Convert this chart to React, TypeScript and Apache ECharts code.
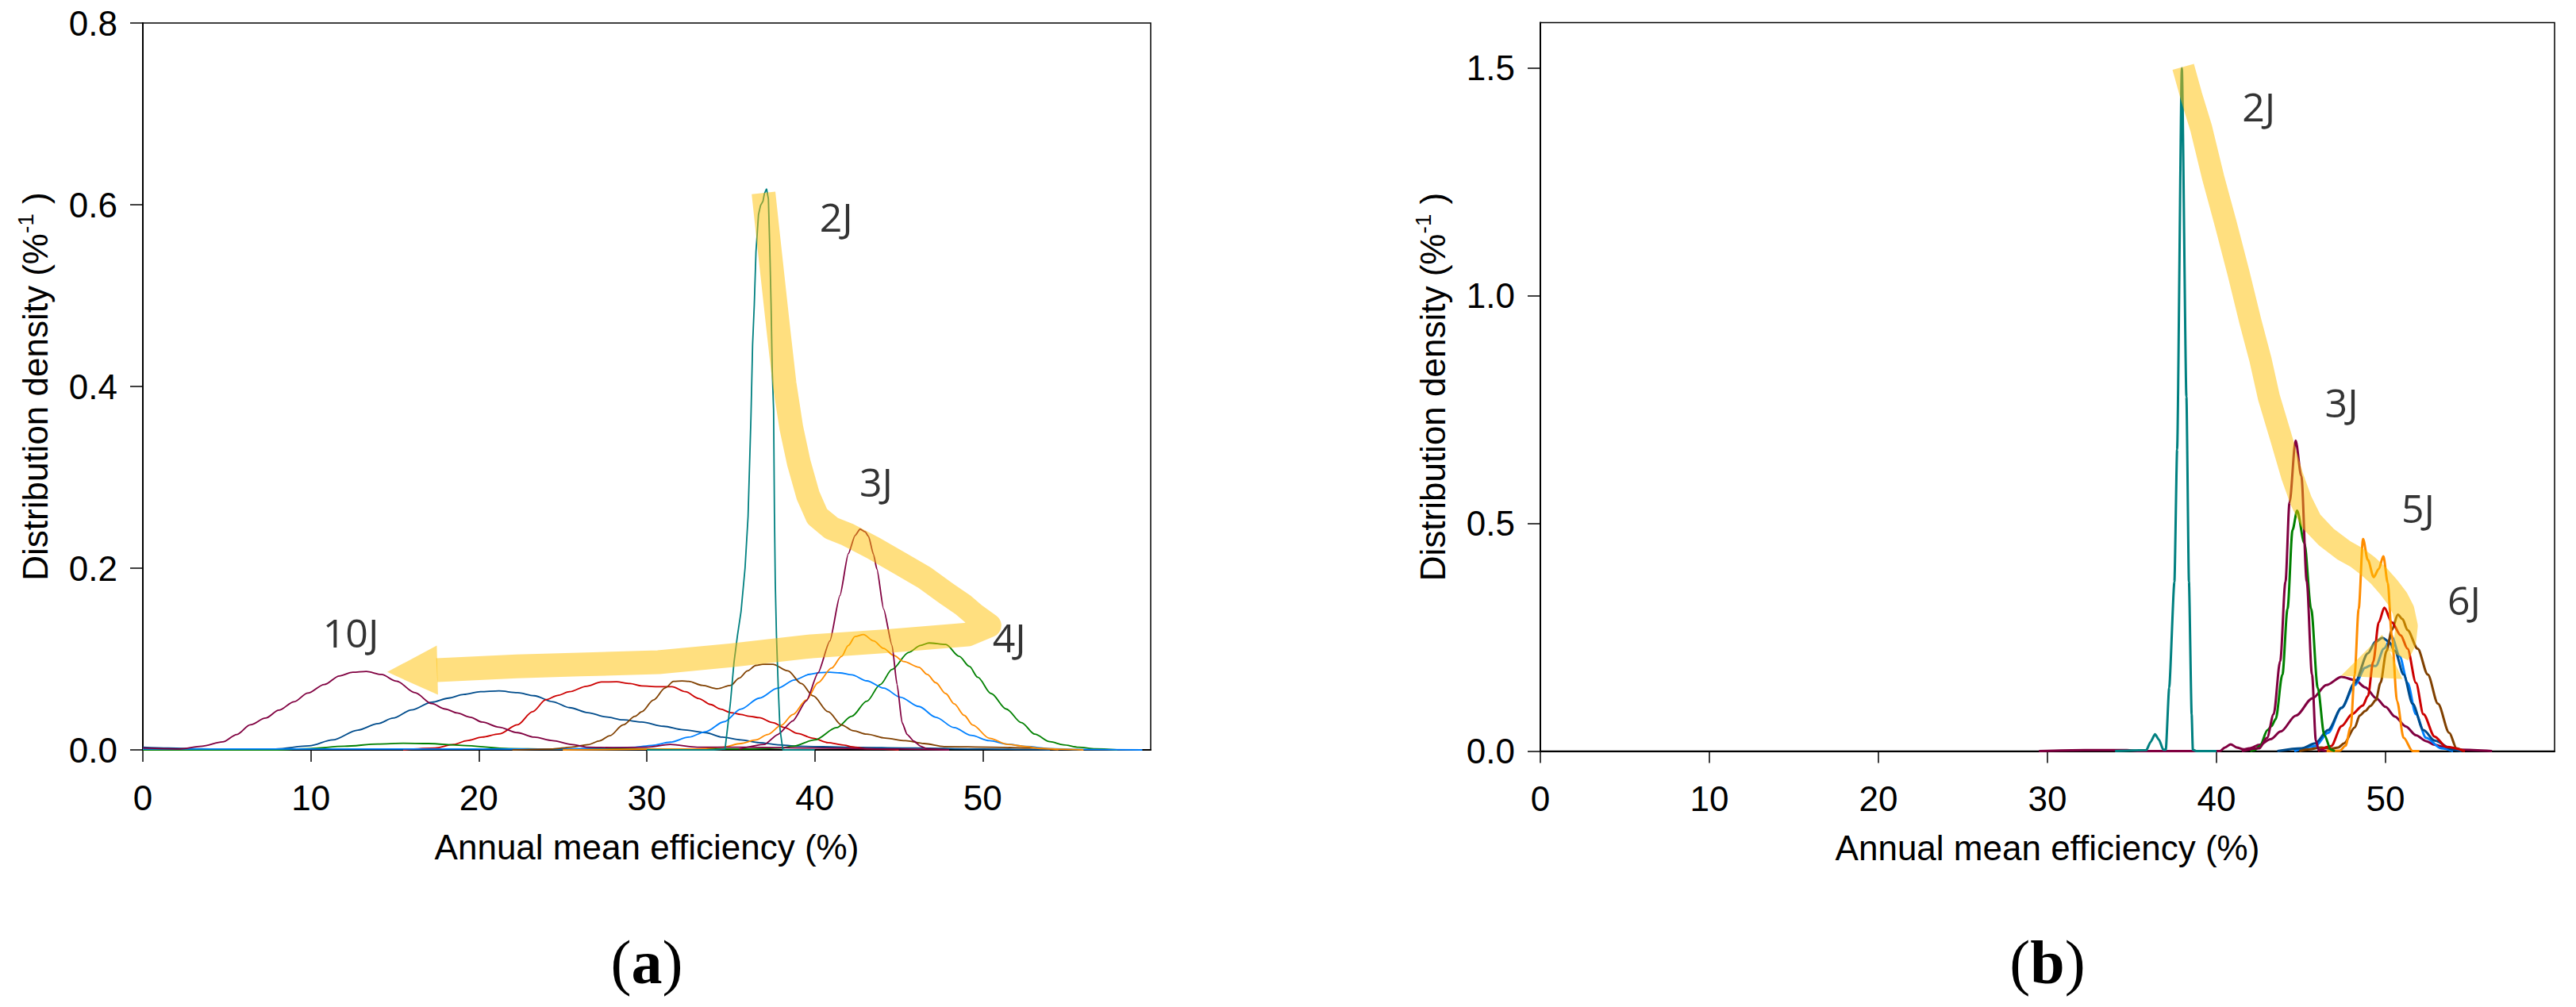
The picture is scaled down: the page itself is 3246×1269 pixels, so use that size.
import React, { useEffect, useRef } from "react";
import * as echarts from "echarts";

// ---------- axes ----------
const X_TICKS = [0, 10, 20, 30, 40, 50];
const Y_TICKS_A = [0, 0.2, 0.4, 0.6, 0.8];
const Y_TICKS_B = [0, 0.5, 1.0, 1.5];
const X_TITLE = "Annual mean efficiency (%)";
const Y_TITLE = "Distribution density (%{sup|-1} )";

// ---------- panel (a) ----------
const A_2J = [[30, 0], [34.0, 0], [34.66, 0.001], [34.8, 0.023], [34.98, 0.052], [35.19, 0.096], [35.4, 0.126], [35.61, 0.152], [35.85, 0.2], [36.03, 0.257], [36.2, 0.365], [36.3, 0.446], [36.4, 0.49], [36.5, 0.548], [36.65, 0.589], [36.77, 0.599], [36.92, 0.604], [37.0, 0.612], [37.13, 0.6175], [37.24, 0.6065], [37.32, 0.554], [37.4, 0.49], [37.47, 0.417], [37.55, 0.374], [37.6, 0.26], [37.65, 0.184], [37.72, 0.126], [37.83, 0.067], [37.93, 0.023], [38.1, 0], [40, 0]];
const A_3J = [[35.5, 0.001], [37, 0.006], [37.8, 0.017], [38.7, 0.032], [39.5, 0.054], [40.2, 0.085], [40.9, 0.12], [41.5, 0.17], [42.0, 0.216], [42.4, 0.236], [42.7, 0.243], [43.0, 0.24], [43.2, 0.235], [43.5, 0.215], [43.7, 0.199], [44.1, 0.155], [44.6, 0.115], [44.9, 0.072], [45.2, 0.03], [45.5, 0.017], [45.9, 0.0096], [46.3, 0.004], [46.7, 0.0012], [48, 0]];
const A_4J = [[0, 0], [8, 0], [9.9, 0.0015], [12, 0.004], [14, 0.0065], [15.5, 0.0073], [17, 0.007], [19, 0.005], [21.8, 0.0015], [24, 0.001], [30, 0.001], [36, 0.001], [38, 0.002], [38.7, 0.004], [40, 0.011], [41.3, 0.0245], [42.2, 0.037], [43.1, 0.0536], [43.9, 0.072], [44.6, 0.0885], [45.6, 0.1074], [46.3, 0.115], [46.8, 0.1177], [47.8, 0.116], [48.6, 0.103], [49.2, 0.092], [49.7, 0.08], [50.5, 0.062], [51.4, 0.045], [52.3, 0.03], [53.1, 0.0173], [54, 0.009], [54.8, 0.0056], [55.7, 0.003], [56.7, 0.0012], [58, 0]];
const A_5J = [[25, 0], [33, 0.001], [34.5, 0.003], [35.6, 0.007], [36.5, 0.011], [37.2, 0.017], [38, 0.027], [38.7, 0.039], [39.5, 0.055], [40.2, 0.074], [41.0, 0.09], [41.6, 0.103], [42.0, 0.115], [42.4, 0.1248], [42.9, 0.127], [43.5, 0.12], [44.1, 0.1117], [44.7, 0.104], [45.3, 0.0972], [46.2, 0.091], [46.7, 0.083], [47.2, 0.074], [47.8, 0.062], [48.3, 0.0507], [48.9, 0.038], [49.4, 0.0274], [50.4, 0.0128], [51.5, 0.006], [52.6, 0.0036], [53.5, 0.0015], [54.7, 0.0007], [56, 0]];
const A_6J = [[0, 0.001], [25, 0.001], [27, 0.002], [29.3, 0.003], [30.3, 0.005], [31.4, 0.0085], [32.5, 0.014], [33.5, 0.02], [34.6, 0.031], [35.6, 0.0449], [36.7, 0.057], [37.8, 0.068], [38.8, 0.077], [39.7, 0.0832], [40.3, 0.085], [40.9, 0.0855], [41.5, 0.0847], [42.2, 0.0826], [43.1, 0.076], [44.1, 0.068], [45.1, 0.058], [46.2, 0.0478], [47.2, 0.036], [48.3, 0.0245], [49.3, 0.016], [50.4, 0.0101], [51.5, 0.0062], [52.6, 0.0037], [54, 0.0015], [55.7, 0.0005], [59.5, 0]];
const A_7J = [[22, 0], [24.4, 0.001], [25.5, 0.003], [26.5, 0.0058], [27.2, 0.01], [27.8, 0.0156], [28.6, 0.0276], [29.3, 0.037], [29.7, 0.042], [30.4, 0.055], [31.1, 0.0683], [31.6, 0.0754], [32.1, 0.0758], [32.5, 0.0754], [33.3, 0.071], [34.2, 0.0673], [35.0, 0.0711], [35.5, 0.079], [36.0, 0.087], [36.5, 0.093], [36.9, 0.0943], [37.5, 0.0943], [38.4, 0.087], [39.2, 0.073], [39.9, 0.0595], [40.8, 0.042], [41.6, 0.0274], [42.3, 0.021], [43.1, 0.0173], [44.2, 0.013], [45.4, 0.0101], [46.5, 0.007], [47.7, 0.0036], [50.5, 0.003], [53, 0.002], [54.5, 0]];
const A_8J = [[15.5, 0], [17.4, 0.002], [18.5, 0.006], [19.3, 0.0102], [20.2, 0.014], [21.2, 0.0175], [22.3, 0.0276], [23.2, 0.042], [24.0, 0.0553], [24.7, 0.06], [25.4, 0.064], [26.4, 0.07], [27.3, 0.0747], [28.2, 0.075], [29.0, 0.073], [29.7, 0.0704], [30.6, 0.0696], [31.5, 0.0696], [32.3, 0.064], [33.1, 0.0565], [33.8, 0.05], [34.4, 0.0449], [35.0, 0.041], [35.6, 0.039], [36.1, 0.037], [36.7, 0.0355], [37.5, 0.03], [38.2, 0.0245], [39.0, 0.018], [39.9, 0.0128], [40.8, 0.008], [41.6, 0.0056], [42.4, 0.003], [43.1, 0.0012], [45, 0]];
const A_9J = [[0, 0.003], [1.5, 0.002], [4, 0.001], [7.9, 0.001], [9.9, 0.0044], [11.3, 0.011], [12.8, 0.0218], [14.0, 0.029], [14.9, 0.035], [16.0, 0.044], [17.2, 0.0525], [18.2, 0.057], [19.1, 0.061], [20.1, 0.064], [21.2, 0.0649], [22.3, 0.063], [23.3, 0.0596], [24.4, 0.053], [25.4, 0.0465], [26.5, 0.041], [27.55, 0.0364], [28.6, 0.033], [29.7, 0.0306], [31.0, 0.026], [32.15, 0.0222], [33.5, 0.019], [34.5, 0.014], [35.6, 0.011], [36.7, 0.008], [37.8, 0.0056], [39, 0.004], [42, 0.003], [46, 0.002], [50, 0.001], [54, 0]];
const A_10J = [[0, 0.002], [2.2, 0.001], [3.5, 0.004], [4.75, 0.0088], [5.6, 0.017], [6.4, 0.0276], [7.3, 0.035], [8.1, 0.0437], [9.0, 0.053], [9.82, 0.0625], [10.8, 0.072], [11.7, 0.0814], [12.5, 0.0855], [13.3, 0.0864], [14.2, 0.083], [15.1, 0.0756], [16.2, 0.063], [17.2, 0.0509], [18.0, 0.045], [18.7, 0.0407], [19.5, 0.036], [20.2, 0.0306], [21.2, 0.025], [22.3, 0.019], [23.3, 0.014], [24.4, 0.0102], [25.5, 0.006], [26.5, 0.0029], [28, 0.0025], [30, 0.003], [31.4, 0.006], [33, 0.003], [36, 0.003], [40, 0.002], [45, 0.001], [48, 0]];

const BAND_A = [[36.95, 0.613], [37.2, 0.57], [37.5, 0.519], [37.85, 0.46], [38.2, 0.403], [38.6, 0.355], [39.05, 0.316], [39.6, 0.28], [40.15, 0.257], [41.0, 0.244], [41.95, 0.237], [43.5, 0.222], [45.1, 0.205], [46.5, 0.19], [47.85, 0.172], [48.8, 0.16], [49.5, 0.149], [50.4, 0.137], [49.1, 0.127], [44.5, 0.12], [39.8, 0.114], [35, 0.104], [30.7, 0.0965], [26, 0.094], [22.25, 0.092], [17.5, 0.0877]];
const ARROW_A = [[14.55, 0.0857], [17.5, 0.1149], [17.57, 0.0606]];
const LABELS_A = [
  { text: "2J", x: 41.28, y: 0.587 },
  { text: "3J", x: 43.65, y: 0.295 },
  { text: "4J", x: 51.58, y: 0.124 },
  { text: "10J", x: 12.38, y: 0.129 },
];

// ---------- panel (b) ----------
const B_TEAL = [[34, 0], [35.85, 0.002], [36.1, 0.02], [36.36, 0.037], [36.6, 0.025], [36.85, 0.003], [37.0, 0.003], [37.2, 0.139], [37.51, 0.372], [37.67, 0.662], [37.95, 1.5], [38.22, 0.778], [38.37, 0.372], [38.53, 0.081], [38.6, 0.003], [38.8, 0], [40, 0]];
const B_MAROON = [[41.5, 0], [42.52, 0.006], [42.99, 0.029], [43.38, 0.081], [43.77, 0.198], [44.08, 0.372], [44.32, 0.546], [44.68, 0.682], [45.02, 0.604], [45.34, 0.372], [45.65, 0.168], [45.88, 0.023], [46.04, 0.003], [46.5, 0]];
const B_GREEN = [[42.0, 0], [42.25, 0.002], [42.56, 0.011], [43.02, 0.046], [43.25, 0.055], [43.5, 0.07], [43.9, 0.168], [44.2, 0.312], [44.5, 0.486], [44.77, 0.528], [45.2, 0.457], [45.6, 0.312], [45.99, 0.139], [46.38, 0.035], [46.77, 0.003], [47, 0]];
const B_WIDE = [[29.5, 0], [32.2, 0.002], [34.7, 0.002], [35.5, 0], [40.2, 0], [40.5, 0.008], [40.84, 0.015], [41.2, 0.008], [41.6, 0.004], [41.93, 0.006], [42.56, 0.014], [43.2, 0.026], [43.8, 0.043], [44.7, 0.078], [45.68, 0.116], [46.5, 0.145], [47.4, 0.163], [48.2, 0.156], [48.8, 0.14], [49.46, 0.116], [50.0, 0.097], [50.55, 0.076], [51.2, 0.054], [51.8, 0.035], [52.4, 0.022], [52.9, 0.014], [53.6, 0.007], [54.46, 0.003], [56.3, 0]];
const B_ORANGE = [[46.5, 0], [47.3, 0.001], [47.63, 0.0116], [47.94, 0.053], [48.17, 0.168], [48.41, 0.312], [48.67, 0.466], [48.95, 0.42], [49.3, 0.382], [49.6, 0.4], [49.87, 0.428], [50.13, 0.37], [50.37, 0.254], [50.68, 0.11], [51.07, 0.029], [51.6, 0], [52, 0]];
const B_RED = [[46.0, 0], [46.78, 0.011], [47.4, 0.055], [48.02, 0.081], [48.65, 0.1], [48.96, 0.121], [49.27, 0.196], [49.6, 0.283], [49.93, 0.315], [50.37, 0.283], [50.9, 0.254], [51.3, 0.225], [51.8, 0.15], [52.24, 0.081], [52.9, 0.032], [53.6, 0.009], [54.7, 0]];
const B_BROWN = [[44.9, 0], [45.5, 0.004], [46.2, 0.008], [46.8, 0.005], [47.2, 0.008], [47.55, 0.017], [48.18, 0.052], [48.47, 0.078], [48.8, 0.088], [49.1, 0.099], [49.43, 0.112], [49.7, 0.15], [50.06, 0.22], [50.37, 0.266], [50.73, 0.3], [51.0, 0.29], [51.3, 0.266], [51.9, 0.225], [52.5, 0.168], [53.1, 0.104], [53.77, 0.04], [54.2, 0.006], [54.6, 0]];
const B_DARKBLUE = [[43.6, 0], [45.05, 0.006], [45.84, 0.017], [46.6, 0.046], [47.4, 0.095], [48.18, 0.15], [48.96, 0.215], [49.4, 0.24], [49.82, 0.249], [50.2, 0.24], [50.55, 0.22], [51.07, 0.168], [51.6, 0.104], [52.24, 0.046], [52.9, 0.023], [54.0, 0.003], [54.5, 0]];
const B_LIGHTBLUE = [[44.6, 0], [45.84, 0.011], [46.6, 0.04], [47.4, 0.095], [48.18, 0.145], [48.8, 0.183], [49.1, 0.188], [49.43, 0.187], [49.9, 0.225], [50.37, 0.251], [50.84, 0.208], [51.3, 0.15], [51.8, 0.081], [52.4, 0.029], [53.3, 0.006], [54, 0]];

const BAND_B = [[38.03, 1.503], [38.5, 1.44], [39.1, 1.367], [39.8, 1.26], [40.56, 1.156], [41.3, 1.05], [42.0, 0.944], [42.6, 0.86], [43.1, 0.777], [43.8, 0.69], [44.48, 0.604], [45.0, 0.55], [45.6, 0.505], [46.5, 0.47], [47.53, 0.441], [48.3, 0.425], [48.94, 0.407], [49.6, 0.385], [50.19, 0.36], [50.7, 0.335], [51.05, 0.31], [51.25, 0.275], [51.15, 0.24], [50.75, 0.21]];
const ARROW_B = [[47.37, 0.1657], [49.8, 0.2556], [51.0, 0.158]];
const LABELS_B = [
  { text: "2J", x: 42.5, y: 1.416 },
  { text: "3J", x: 47.4, y: 0.766 },
  { text: "5J", x: 51.92, y: 0.534 },
  { text: "6J", x: 54.65, y: 0.332 },
];

// ---------- styles ----------
const C = {
  teal: "#008080",
  maroon: "#800040",
  green: "#008000",
  orange: "#ff8c00",
  lightBlue: "#0080ff",
  brown: "#804000",
  red: "#cc0000",
  darkBlue: "#004c8c",
};
const BAND_COLOR = "rgba(255,192,0,0.5)";
const SANS = "Liberation Sans, Arial, sans-serif";

function xAxis(gridIndex: number) {
  return {
    gridIndex,
    type: "value",
    min: 0,
    max: 60,
    interval: 10,
    name: X_TITLE,
    nameLocation: "middle",
    nameGap: 100,
    nameTextStyle: { fontFamily: SANS, fontSize: 44, color: "#000" },
    axisLine: { show: true, onZero: false, lineStyle: { color: "#000", width: 2 } },
    axisTick: { show: true, length: 15, customValues: X_TICKS, lineStyle: { color: "#000", width: 1.5 } },
    axisLabel: { customValues: X_TICKS, fontFamily: SANS, fontSize: 44, color: "#000", margin: 38 },
    splitLine: { show: false },
  };
}

function yAxis(gridIndex: number, max: number, interval: number, ticks: number[]) {
  return {
    gridIndex,
    type: "value",
    min: 0,
    max,
    interval,
    name: Y_TITLE,
    nameLocation: "middle",
    nameGap: 110,
    nameTextStyle: {
      fontFamily: SANS,
      fontSize: 44,
      color: "#000",
      rich: { sup: { fontFamily: SANS, fontSize: 28, color: "#000", padding: [0, 0, 24, 0] } },
    },
    axisLine: { show: true, onZero: false, lineStyle: { color: "#000", width: 2 } },
    axisTick: { show: true, length: 16, customValues: ticks, lineStyle: { color: "#000", width: 1.5 } },
    axisLabel: {
      customValues: ticks,
      fontFamily: SANS,
      fontSize: 44,
      color: "#000",
      margin: 32,
      formatter: (v: number) => v.toFixed(1),
    },
    splitLine: { show: false },
  };
}

function curve(data: number[][], color: string, idx: number, width: number, smooth: number | boolean) {
  return {
    type: "line",
    xAxisIndex: idx,
    yAxisIndex: idx,
    data,
    symbol: "none",
    showSymbol: false,
    smooth,
    smoothMonotone: "x",
    silent: true,
    lineStyle: { color, width },
    z: 2,
  };
}

function band(data: number[][], idx: number, width: number) {
  return {
    type: "line",
    xAxisIndex: idx,
    yAxisIndex: idx,
    data,
    symbol: "none",
    showSymbol: false,
    smooth: false,
    silent: true,
    lineStyle: { color: BAND_COLOR, width, cap: "butt", join: "round" },
    z: 3,
  };
}

function arrowHead(points: number[][], idx: number) {
  return {
    type: "custom",
    xAxisIndex: idx,
    yAxisIndex: idx,
    data: [points[0]],
    silent: true,
    z: 3,
    renderItem: (_p: any, api: any) => ({
      type: "polygon",
      shape: { points: points.map((p) => api.coord(p)) },
      style: { fill: BAND_COLOR },
    }),
  };
}

function labels(items: { text: string; x: number; y: number }[], idx: number) {
  return {
    type: "scatter",
    xAxisIndex: idx,
    yAxisIndex: idx,
    data: items.map((l) => ({ value: [l.x, l.y], name: l.text })),
    symbolSize: 1,
    itemStyle: { color: "rgba(0,0,0,0)" },
    silent: true,
    z: 5,
    label: {
      show: true,
      position: "inside",
      formatter: "{b}",
      fontFamily: "Open Sans, sans-serif",
      fontSize: 50,
      color: "#000",
    },
  };
}

function panelLabel(letter: string, x: number) {
  return {
    type: "text",
    x,
    y: 1212,
    style: {
      text: `{p|(}{b|${letter}}{p|)}`,
      align: "center",
      verticalAlign: "middle",
      rich: {
        p: { fontFamily: "Liberation Serif, serif", fontSize: 78, fill: "#000" },
        b: { fontFamily: "Liberation Serif, serif", fontSize: 78, fontWeight: "bold", fill: "#000" },
      },
    },
  };
}

const option = {
  animation: false,
  backgroundColor: "#fff",
  grid: [
    { left: 180, top: 29, width: 1270, height: 916, show: true, borderColor: "#000", borderWidth: 1.5, backgroundColor: "transparent", outerBoundsMode: "none" },
    { left: 1941, top: 28.5, width: 1278, height: 918, show: true, borderColor: "#000", borderWidth: 1.5, backgroundColor: "transparent", outerBoundsMode: "none" },
  ],
  xAxis: [xAxis(0), xAxis(1)],
  yAxis: [yAxis(0, 0.8, 0.2, Y_TICKS_A), yAxis(1, 1.6, 0.5, Y_TICKS_B)],
  series: [
    curve(A_9J, C.darkBlue, 0, 1.8, 0.3),
    curve(A_8J, C.red, 0, 1.8, 0.3),
    curve(A_4J, C.green, 0, 1.8, 0.3),
    curve(A_6J, C.lightBlue, 0, 1.8, 0.3),
    curve(A_7J, C.brown, 0, 1.8, 0.3),
    curve(A_5J, C.orange, 0, 1.8, 0.3),
    curve(A_10J, C.maroon, 0, 1.8, 0.3),
    curve(A_3J, C.maroon, 0, 1.8, 0.2),
    curve(A_2J, C.teal, 0, 1.8, false),
    band(BAND_A, 0, 30),
    arrowHead(ARROW_A, 0),
    labels(LABELS_A, 0),

    curve(B_WIDE, C.maroon, 1, 3, 0.3),
    curve(B_LIGHTBLUE, C.lightBlue, 1, 3, 0.3),
    curve(B_DARKBLUE, C.darkBlue, 1, 3, 0.3),
    curve(B_BROWN, C.brown, 1, 3, 0.3),
    curve(B_RED, C.red, 1, 3, 0.3),
    curve(B_ORANGE, C.orange, 1, 3, 0.3),
    curve(B_GREEN, C.green, 1, 3, 0.3),
    curve(B_MAROON, C.maroon, 1, 3, 0.3),
    curve(B_TEAL, C.teal, 1, 3, 0.2),
    band(BAND_B, 1, 28),
    arrowHead(ARROW_B, 1),
    labels(LABELS_B, 1),
  ],
  graphic: [panelLabel("a", 815), panelLabel("b", 2580)],
};

export default function App() {
  const ref = useRef<HTMLDivElement>(null);
  useEffect(() => {
    const chart = echarts.init(ref.current as HTMLDivElement, null, { renderer: "svg" });
    chart.setOption(option as any);
    return () => chart.dispose();
  }, []);
  return (
    <div
      ref={ref}
      style={{ position: "absolute", left: 0, top: 0, width: 3246, height: 1269, background: "#fff" }}
    />
  );
}
